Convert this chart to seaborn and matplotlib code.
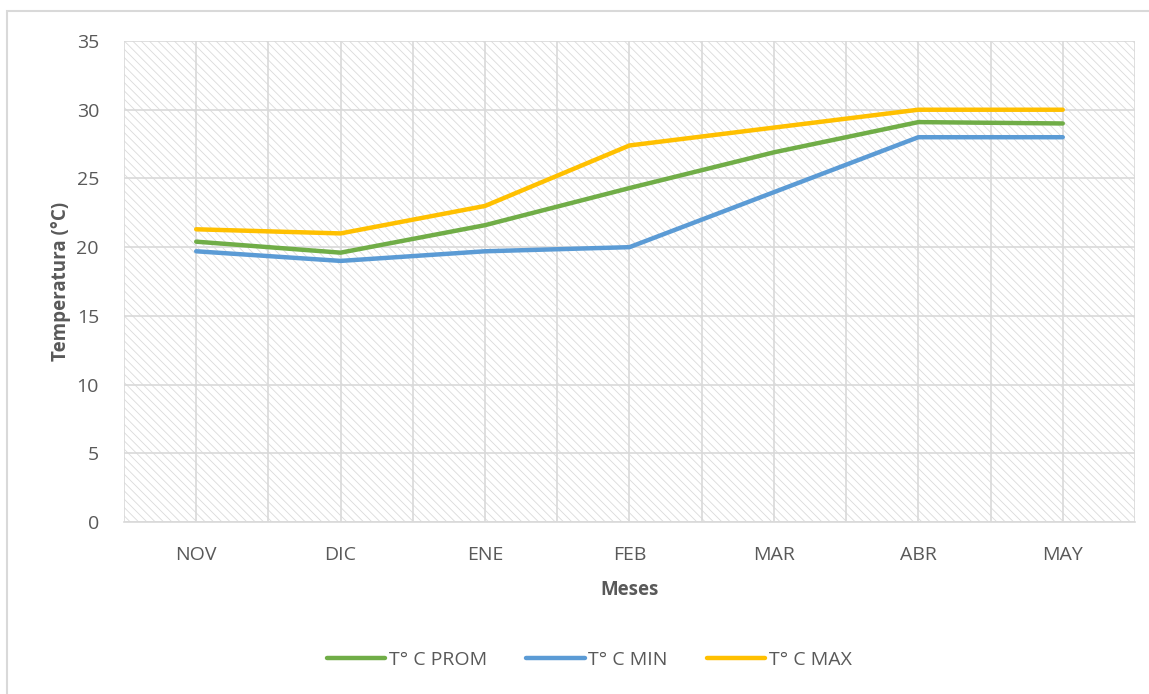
import pandas as pd
import seaborn as sns
import matplotlib.pyplot as plt
from matplotlib.patches import Rectangle

GREEN = "#70AD47"
BLUE = "#5B9BD5"
YELLOW = "#FFC000"
GRID = "#D9D9D9"
TEXT = "#595959"

months = ["NOV", "DIC", "ENE", "FEB", "MAR", "ABR", "MAY"]
t_prom = [20.4, 19.6, 21.6, 24.3, 26.9, 29.1, 29.0]
t_min = [19.7, 19.0, 19.7, 20.0, 24.0, 28.0, 28.0]
t_max = [21.3, 21.0, 23.0, 27.4, 28.7, 30.0, 30.0]
series = ["T° C PROM", "T° C MIN", "T° C MAX"]

df = pd.DataFrame({
    "Meses": months * 3,
    "Temp": t_prom + t_min + t_max,
    "Serie": [series[0]] * 7 + [series[1]] * 7 + [series[2]] * 7,
})

sns.set_style("white")
plt.rcParams["font.family"] = ["Open Sans", "DejaVu Sans"]
plt.rcParams["hatch.linewidth"] = 0.6
plt.rcParams["hatch.color"] = "#DADADA"

fig = plt.figure(figsize=(11.49, 6.94), dpi=100)
ax = fig.add_axes([0.1079, 0.2478, 0.8799, 0.6931])

# hatched background like the Excel pattern fill
ax.patch.set_facecolor("white")
ax.add_patch(Rectangle((0, 0), 1, 1, transform=ax.transAxes, facecolor="none",
                       edgecolor="#DADADA", hatch="\\\\\\\\", linewidth=0, zorder=0))

sns.lineplot(data=df, x="Meses", y="Temp", hue="Serie", hue_order=series,
             palette={series[0]: GREEN, series[1]: BLUE, series[2]: YELLOW},
             linewidth=3.2, sort=False, ax=ax, zorder=3)

ax.set_xlim(-0.5, 6.5)
ax.set_ylim(0, 35)
ax.set_yticks(range(0, 36, 5))
ax.set_xticks(range(7))
ax.set_xticklabels(months)
ax.set_xticks([i + 0.5 for i in range(-1, 7)], minor=True)
ax.grid(True, which="both", color=GRID, linewidth=1.2, zorder=1)
ax.set_axisbelow(True)
for s in ["top", "right", "left"]:
    ax.spines[s].set_visible(False)
ax.spines["bottom"].set_color(GRID)
ax.spines["bottom"].set_linewidth(1.2)
ax.tick_params(axis="both", which="both", length=0, labelsize=14, labelcolor=TEXT)
ax.tick_params(axis="y", pad=18)
ax.tick_params(axis="x", pad=17)

ax.set_xlabel("Meses", fontsize=13.5, fontweight="bold", color=TEXT, labelpad=12)
ax.set_ylabel("Temperatura (°C)", fontsize=13.5, fontweight="bold", color=TEXT, labelpad=4)

leg = ax.legend(loc="center", ncol=3, frameon=False, fontsize=14, handlelength=3.0,
                columnspacing=2.0, handletextpad=0.2)
leg.set_bbox_to_anchor((0.513, 0.049), transform=fig.transFigure)
for t in leg.get_texts():
    t.set_color(TEXT)

# outer chart border
fig.patches.append(Rectangle((0.006, -0.01), 1.0, 0.994, transform=fig.transFigure,
                             facecolor="none", edgecolor=GRID, linewidth=1.5))

fig.savefig("out.png", dpi=100)
